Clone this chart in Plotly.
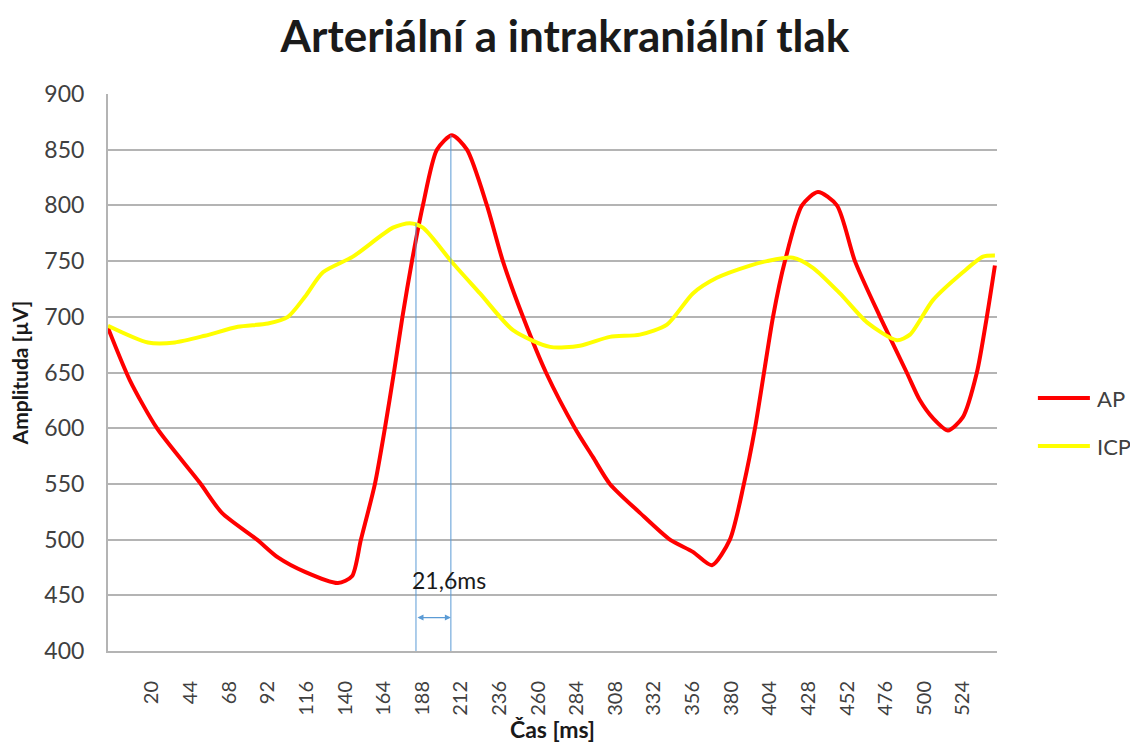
import plotly.graph_objects as go

# ---- data ----
ap_time = [-7.3, 6.3, 23.1, 49.8, 63.5, 85.3, 98.3, 115.1, 135.6, 144.3, 149.9, 158.6,
           164.8, 170.4, 175.7, 181.6, 188.4, 197.1, 206.5, 215.8, 228.2, 238.1,
           250.6, 264.9, 282.9, 294.1, 304.6, 323.3, 341.9, 356.2, 368.0, 379.2, 387.9,
           394.8, 400.4, 406.0, 413.4, 424.0, 433.9, 445.7, 456.9, 472.5, 489.1, 497.3,
           505.4, 514.7, 524.0, 532.7, 538.9, 543.9]
ap_values = [690, 643, 600, 551, 524, 500, 484, 471, 461, 467, 500, 550,
             600, 650, 700, 750, 800, 850, 863, 850, 800, 750,
             700, 650, 600, 574, 550, 524, 500, 489, 477, 500, 550,
             600, 650, 700, 750, 800, 812, 800, 750, 700, 650, 625,
             609, 598, 610, 650, 700, 746]

icp_time = [-7.3, 17.5, 34.3, 52.9, 73.4, 92.1, 104.5, 115.1, 126.3, 144.9, 169.8,
            180.3, 188.4, 206.5, 223.9, 244.4, 267.4, 286.0, 304.6, 323.3, 340.1,
            356.2, 371.1, 391.7, 402.2, 418.4, 430.8, 447.6, 464.4, 483.0, 491.1,
            505.4, 524.0, 536.5, 543.9]
icp_values = [692, 677, 677, 683, 691, 694, 700, 718, 740, 754, 780,
              784, 780, 749, 721, 688, 673, 674, 682, 684, 693,
              721, 735, 746, 750, 753, 744, 721, 695, 679, 684,
              715, 740, 754, 755]

tick_vals = [20, 44, 68, 92, 116, 140, 164, 188, 212, 236, 260, 284, 308, 332,
             356, 380, 404, 428, 452, 476, 500, 524]
tick_text = [str(v) for v in tick_vals]

series_names = ["AP", "ICP"]
series_colors = ["#ff0000", "#ffff00"]

# delay markers
icp_peak_t, icp_peak_v = 184.1, 784
ap_peak_t, ap_peak_v = 205.8, 863
delay_label = "21,6ms"
delay_label_t, delay_label_v = 204.6, 464
arrow_level = 430

FONT = "Lato, 'Open Sans', sans-serif"
GRID = "#b4b4b4"
TXT = "#404040"
DARK = "#1a1a1a"
BLUE = "#5b9bd5"

fig = go.Figure()
fig.add_trace(go.Scatter(x=ap_time, y=ap_values, name=series_names[0], mode="lines",
                         line=dict(color=series_colors[0], width=4, shape="spline", smoothing=0.7),
                         showlegend=False))
fig.add_trace(go.Scatter(x=icp_time, y=icp_values, name=series_names[1], mode="lines",
                         line=dict(color=series_colors[1], width=4, shape="spline", smoothing=0.7),
                         showlegend=False))

# legend (drawn in paper coordinates to the right of the plot)
legend_y = [0.454, 0.368]
for name, col, ly in zip(series_names, series_colors, legend_y):
    fig.add_shape(type="line", xref="paper", yref="paper", x0=1.046, x1=1.1045, y0=ly, y1=ly,
                  line=dict(color=col, width=4))
    fig.add_annotation(xref="paper", yref="paper", x=1.110, y=ly, xanchor="left",
                       yanchor="middle", text=name, showarrow=False,
                       font=dict(family=FONT, size=22, color=TXT))

# vertical markers
fig.add_shape(type="line", x0=icp_peak_t, x1=icp_peak_t, y0=400, y1=icp_peak_v,
              line=dict(color=BLUE, width=1), layer="above")
fig.add_shape(type="line", x0=ap_peak_t, x1=ap_peak_t, y0=400, y1=ap_peak_v,
              line=dict(color=BLUE, width=1), layer="above")
# double-headed arrow
fig.add_annotation(x=ap_peak_t, y=arrow_level, ax=icp_peak_t, ay=arrow_level,
                   xref="x", yref="y", axref="x", ayref="y", text="",
                   showarrow=True, arrowhead=2, arrowside="end+start",
                   arrowsize=1, arrowwidth=1.2, arrowcolor=BLUE)
fig.add_annotation(x=delay_label_t, y=delay_label_v, text=delay_label,
                   showarrow=False, font=dict(family=FONT, size=23, color=DARK))

fig.update_layout(
    width=1130, height=743,
    margin=dict(l=108, r=133, t=94, b=92, autoexpand=False),
    paper_bgcolor="white", plot_bgcolor="white",
    title=dict(text="Arteriální a intrakraniální tlak", x=0.5, xanchor="center",
               y=1 - 37 / 743, yref="container", yanchor="middle",
               font=dict(family=FONT, size=44, color=DARK, weight="bold")),
    font=dict(family=FONT, color=TXT),
    showlegend=False,
)
fig.update_xaxes(range=[-7.3, 545.2], tickmode="array", tickvals=tick_vals, ticktext=tick_text,
                 tickangle=-90, tickfont=dict(family=FONT, size=20, color=TXT),
                 showgrid=False, zeroline=False, showline=True, linecolor=GRID, linewidth=2,
                 ticks="", ticklabelstandoff=20, automargin=False,
                 title=dict(text="Čas [ms]",
                            font=dict(family=FONT, size=23, color=DARK, weight="bold"),
                            standoff=0))
fig.update_yaxes(range=[400, 900], tickmode="linear", tick0=400, dtick=50,
                 tickfont=dict(family=FONT, size=23, color=TXT),
                 showgrid=True, gridcolor=GRID, gridwidth=2, zeroline=False,
                 showline=True, linecolor=GRID, linewidth=2, ticks="", ticklabelstandoff=17,
                 automargin=False,
                 title=dict(text="Amplituda [µV]",
                            font=dict(family=FONT, size=21, color=DARK, weight="bold"),
                            standoff=10))

fig.write_html("out.html", config={"displayModeBar": False},
               post_script="document.body.style.margin='0';document.body.style.overflow='hidden';")
